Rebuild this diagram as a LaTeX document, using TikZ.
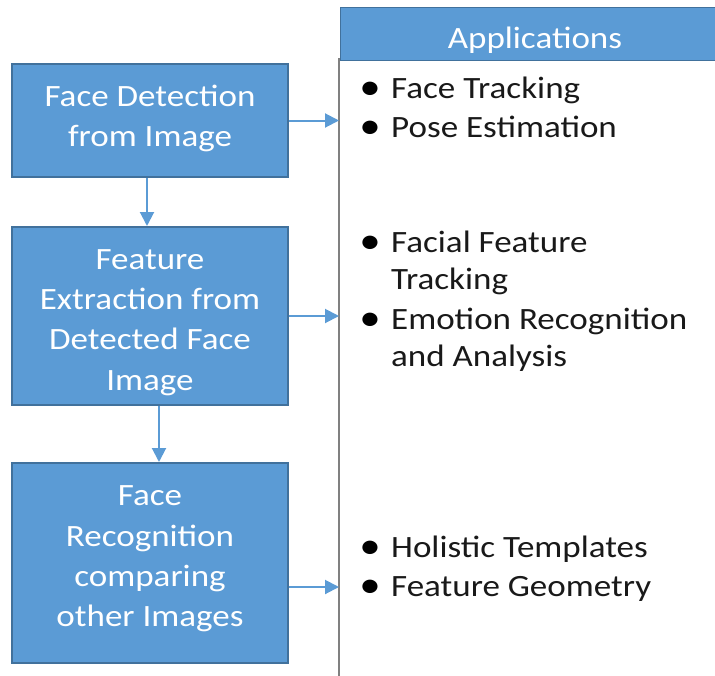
\documentclass[tikz,border=0pt]{standalone}
\usepackage{fontspec}
\setmainfont{Carlito}[FakeStretch=1.13]
\usetikzlibrary{arrows.meta}
\definecolor{boxfill}{HTML}{5B9BD5}
\definecolor{boxline}{HTML}{41719C}
\definecolor{panelline}{HTML}{808080}
\begin{document}
\begin{tikzpicture}[x=1pt,y=-1pt,
  stepbox/.style={draw=boxline, line width=2pt, fill=boxfill, inner sep=0pt,
    minimum width=276pt},
  steptext/.style={text=white, font=\fontsize{31}{40.3}\selectfont, align=center, inner sep=0pt},
  flow/.style={draw=boxfill, line width=2pt, -{Triangle[length=14pt,width=14pt]}},
  bul/.style={anchor=base, font=\fontsize{38}{38}\selectfont, inner sep=0pt},
  item/.style={anchor=base west, font=\fontsize{31}{38}\selectfont, inner sep=0pt, text=black!90}]
\useasboundingbox (0,0) rectangle (715,675);
% step boxes
\node[stepbox, minimum height=113pt] (b1) at (150,120.5) {};
\node[steptext] (t1) at (150,118.5) {Face Detection\\from Image};
\node[stepbox, minimum height=178pt] (b2) at (150,316) {};
\node[steptext] (t2) at (150,322.5) {Feature\\Extraction from\\Detected Face\\Image};
\node[stepbox, minimum height=200pt] (b3) at (150,563) {};
\node[steptext] (t3) at (150,559) {Face\\Recognition\\comparing\\other Images};
% applications panel
\coordinate (ptop) at (339,58);
\coordinate (pbot) at (339,676);
\draw[panelline, line width=2pt] (ptop) -- (pbot);
\node[draw=boxline, line width=1pt, fill=boxfill, minimum width=378pt,
  minimum height=53pt, inner sep=0pt] (hdr) at (529,34) {};
\node[text=white, inner sep=0pt, font=\fontsize{31}{35}\selectfont, anchor=base] (hdrtxt) at (535,48) {Applications};
% connectors
\draw[flow] (b1.east) -- (b1.east -| ptop);
\draw[flow] (b2.east) -- (b2.east -| ptop);
\draw[flow] ([yshift=-24pt]b3.east) -- ([yshift=-24pt]b3.east -| ptop);
\draw[flow] ([xshift=-3pt]b1.south) -- ([xshift=-3pt]b2.north);
\draw[flow] ([xshift=9pt]b2.south) -- ([xshift=9pt]b3.north);
% list items
\node[bul] (u1) at (370,99) {\textbullet};
\node[item] (i1) at (391,98) {Face Tracking};
\node[bul] (u2) at (370,138) {\textbullet};
\node[item] (i2) at (391,137) {Pose Estimation};
\node[bul] (u3) at (370,253) {\textbullet};
\node[item] (i3) at (391,252) {Facial Feature};
\node[item] (i3b) at (391,289) {Tracking};
\node[bul] (u4) at (370,330) {\textbullet};
\node[item] (i4) at (391,329) {Emotion Recognition};
\node[item] (i4b) at (391,366) {and Analysis};
\node[bul] (u5) at (370,558) {\textbullet};
\node[item] (i5) at (391,557) {Holistic Templates};
\node[bul] (u6) at (370,597) {\textbullet};
\node[item] (i6) at (391,596) {Feature Geometry};
\end{tikzpicture}
\end{document}
